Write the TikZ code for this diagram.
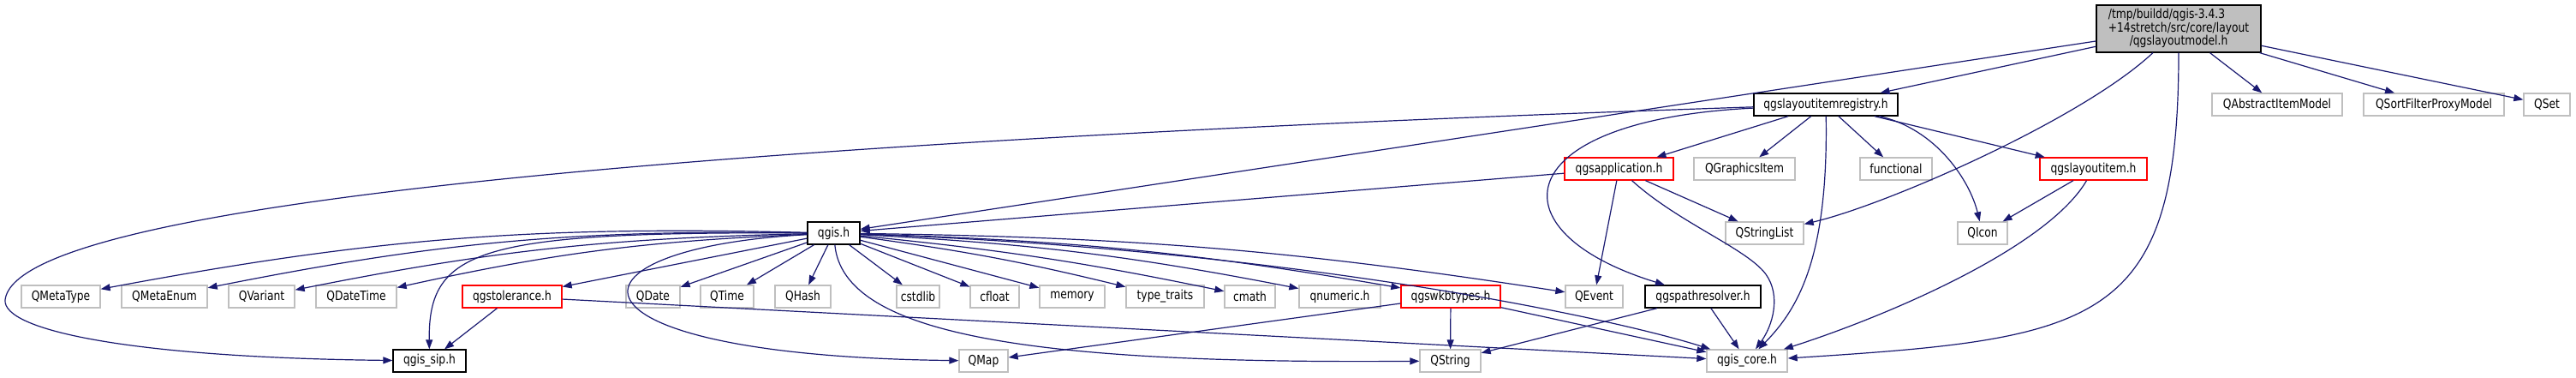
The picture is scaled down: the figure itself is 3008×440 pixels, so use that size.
\documentclass[tikz,border=0pt]{standalone}
\usepackage{fontspec}
\setmainfont{DejaVu Sans}[FakeStretch=0.82]
\usetikzlibrary{arrows.meta}
\definecolor{grey75}{HTML}{BFBFBF}
\definecolor{midnightblue}{HTML}{191970}
\tikzset{
    header/.style = {rectangle, minimum height=26, inner sep=0pt, line width=1.3pt, fill=white},
    external/.style = {header, draw=grey75},
    documented/.style = {header, draw=black},
    truncated/.style = {header, draw=red},
    mainfile/.style = {rectangle, inner sep=0pt, minimum height=55, line width=1.3pt, draw=black, fill=grey75},
    arrow/.style = {draw=midnightblue, line width=1.2pt, -{Triangle[length=11pt,width=8pt]}}
}

\begin{document}
\begin{tikzpicture}[x=1pt, y=-1pt, font=\fontsize{15}{13.5}\selectfont]
\useasboundingbox (0,0) rectangle (3008,440);

% ---- top row ----
\node[mainfile, minimum width=192] (model) at (2544,33.5) {%
  \begin{tabular}{@{}l@{}}
    /tmp/buildd/qgis-3.4.3 \\
    +14stretch/src/core/layout \\
    \multicolumn{1}{@{}c@{}}{/qgslayoutmodel.h}
  \end{tabular}%
};

% ---- second row ----
\node[documented, minimum width=168] (registry) at (2132,122) {qgslayoutitemregistry.h};
\node[external, minimum width=152] (qabstract) at (2659,122) {QAbstractItemModel};
\node[external, minimum width=164] (qsortfilter) at (2842,122) {QSortFilterProxyModel};
\node[external, minimum width=54] (qset) at (2974,122) {QSet};

% ---- third row ----
\node[truncated, minimum width=127] (qgsapp) at (1890.5,197) {qgsapplication.h};
\node[external, minimum width=118] (qgraphicsitem) at (2037,197) {QGraphicsItem};
\node[external, minimum width=84] (functional) at (2214,197) {functional};
\node[truncated, minimum width=125] (layoutitem) at (2444.5,197) {qgslayoutitem.h};

% ---- fourth row ----
\node[documented, minimum width=61] (qgish) at (973.5,272) {qgis.h};
\node[external, minimum width=91] (qstringlist) at (2060.5,272) {QStringList};
\node[external, minimum width=58] (qicon) at (2315,272) {QIcon};

% ---- fifth row ----
\node[external, minimum width=92] (qmetatype) at (71,346) {QMetaType};
\node[external, minimum width=100] (qmetaenum) at (192,346) {QMetaEnum};
\node[external, minimum width=77] (qvariant) at (305.5,346) {QVariant};
\node[external, minimum width=94] (qdatetime) at (416,346) {QDateTime};
\node[truncated, minimum width=116] (tolerance) at (598,346) {qgstolerance.h};
\node[external, minimum width=63] (qdate) at (762.5,346) {QDate};
\node[external, minimum width=62] (qtime) at (849,346) {QTime};
\node[external, minimum width=65] (qhash) at (937.5,346) {QHash};
\node[external, minimum width=50] (cstdlib) at (1072,346) {cstdlib};
\node[external, minimum width=57] (cfloat) at (1161.5,346) {cfloat};
\node[external, minimum width=76] (memory) at (1252,346) {memory};
\node[external, minimum width=91] (typetraits) at (1360.5,346) {type\_traits};
\node[external, minimum width=59] (cmath) at (1459.5,346) {cmath};
\node[external, minimum width=95] (qnumeric) at (1564.5,346) {qnumeric.h};
\node[truncated, minimum width=116] (wkbtypes) at (1694,346) {qgswkbtypes.h};
\node[external, minimum width=67] (qevent) at (1861.5,346) {QEvent};
\node[documented, minimum width=135] (pathresolver) at (1988.5,346) {qgspathresolver.h};

% ---- bottom row ----
\node[documented, minimum width=85] (qgissip) at (501.5,421) {qgis\_sip.h};
\node[external, minimum width=57] (qmap) at (1148.5,421) {QMap};
\node[external, minimum width=71] (qstring) at (1693.5,421) {QString};
\node[external, minimum width=94] (qgiscore) at (2040,421) {qgis\_core.h};

% ---- Arrows from qgslayoutmodel.h ----
\draw[arrow] (model) -- (registry);
\draw[arrow] (model) -- (qgish);
\draw[arrow] (model) .. controls (2430,140) and (2200,240) .. (qstringlist);
\draw[arrow] (model) .. controls (2544,380) and (2450,395) .. (qgiscore);
\draw[arrow] (model) -- (qabstract);
\draw[arrow] (model) -- (qsortfilter);
\draw[arrow] (model) -- (qset);

% ---- Arrows from qgslayoutitemregistry.h ----
\draw[arrow] (registry) .. controls (1000,160) and (20,225) .. (6,350) .. controls (3,385) and (150,417) .. (qgissip);
\draw[arrow] (registry) -- (qgsapp);
\draw[arrow] (registry) .. controls (1760,140) and (1740,270) .. (pathresolver);
\draw[arrow] (registry) -- (qgraphicsitem);
\draw[arrow] (registry) .. controls (2135,300) and (2100,360) .. (qgiscore);
\draw[arrow] (registry) -- (functional);
\draw[arrow] (registry) .. controls (2260,150) and (2300,210) .. (qicon);
\draw[arrow] (registry) -- (layoutitem);

% ---- Arrows from qgsapplication.h and qgslayoutitem.h ----
\draw[arrow] (qgsapp) -- (qgish);
\draw[arrow] (qgsapp) -- (qevent);
\draw[arrow] (qgsapp) -- (qstringlist);
\draw[arrow] (qgsapp) .. controls (1960,260) and (2040,290) .. (2062,320) .. controls (2080,345) and (2070,380) .. (qgiscore);
\draw[arrow] (layoutitem) -- (qicon);
\draw[arrow] (layoutitem) .. controls (2390,290) and (2200,370) .. (qgiscore);

% ---- Arrows from qgis.h ----
\draw[arrow] (qgish) to[bend right=6] (qmetatype);
\draw[arrow] (qgish) to[bend right=6] (qmetaenum);
\draw[arrow] (qgish) to[bend right=5] (qvariant);
\draw[arrow] (qgish) to[bend right=5] (qdatetime);
\draw[arrow] (qgish) -- (tolerance);
\draw[arrow] (qgish) .. controls (560,270) and (500,290) .. (qgissip);
\draw[arrow] (qgish) -- (qdate);
\draw[arrow] (qgish) -- (qtime);
\draw[arrow] (qgish) -- (qhash);
\draw[arrow] (qgish) .. controls (640,290) and (640,415) .. (qmap);
\draw[arrow] (qgish) -- (cstdlib);
\draw[arrow] (qgish) -- (cfloat);
\draw[arrow] (qgish) -- (memory);
\draw[arrow] (qgish) to[bend left=3] (typetraits);
\draw[arrow] (qgish) to[bend left=3] (cmath);
\draw[arrow] (qgish) to[bend left=4] (qnumeric);
\draw[arrow] (qgish) to[bend left=4] (wkbtypes);
\draw[arrow] (qgish) to[bend left=4] (qevent);
\draw[arrow] (qgish) .. controls (985,390) and (1200,425) .. (qstring);
\draw[arrow] (qgish) .. controls (1500,290) and (1880,370) .. (qgiscore);

% ---- Arrows from the lower headers ----
\draw[arrow] (tolerance) -- (qgissip);
\draw[arrow] (tolerance) -- (qgiscore);
\draw[arrow] (wkbtypes) -- (qmap);
\draw[arrow] (wkbtypes) -- (qstring);
\draw[arrow] (wkbtypes) -- (qgiscore);
\draw[arrow] (pathresolver) -- (qstring);
\draw[arrow] (pathresolver) -- (qgiscore);

\end{tikzpicture}
\end{document}
